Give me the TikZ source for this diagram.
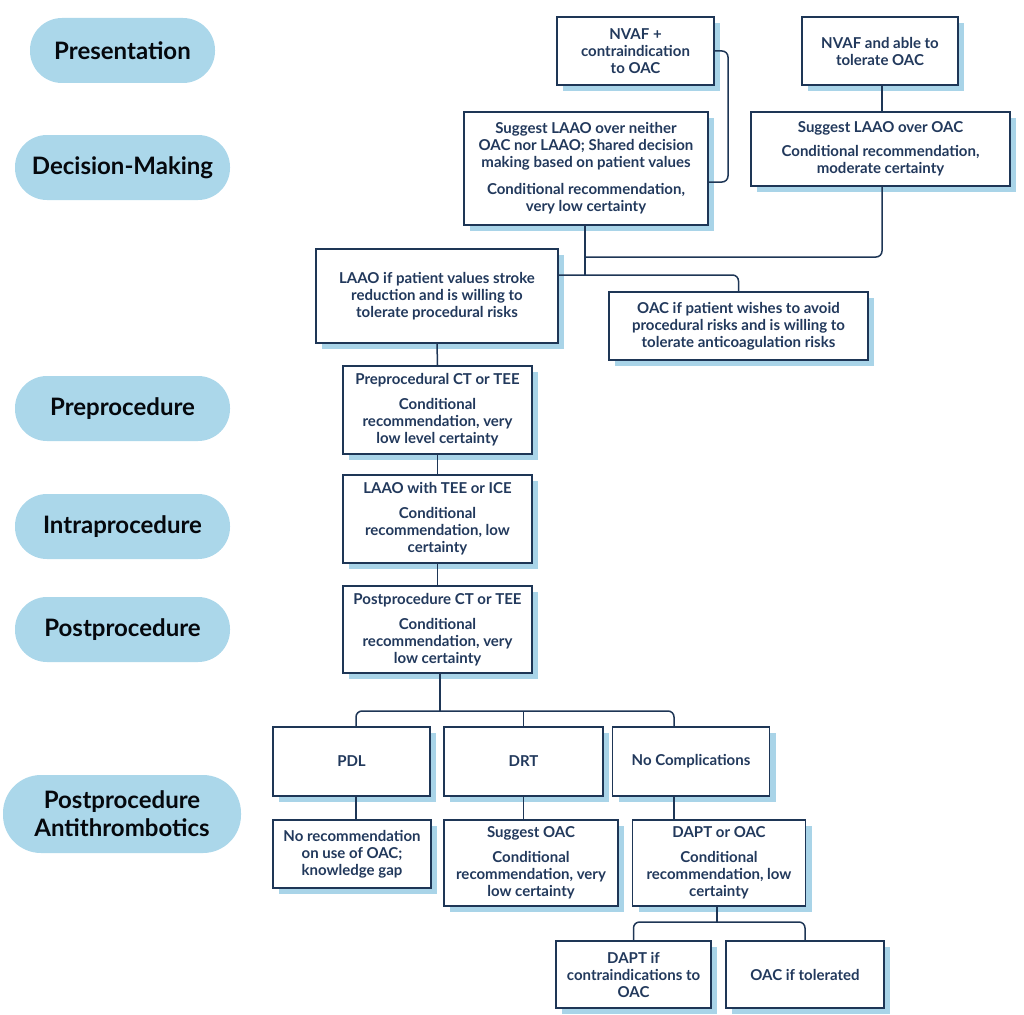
\documentclass[tikz,border=0pt]{standalone}
\usepackage{fontspec}
\setmainfont{Lato}
\usetikzlibrary{shadows}
\definecolor{navy}{HTML}{1E3656}
\definecolor{txt}{HTML}{22395C}
\definecolor{shadowblue}{HTML}{A9D4E8}
\definecolor{pillblue}{HTML}{ABD7EA}
\begin{document}
\begin{tikzpicture}[x=1pt,y=-1pt,
  box/.style={draw=navy, line width=1.5pt, fill=white, align=center, inner sep=0pt,
    text=txt, font=\fontsize{15}{17}\selectfont\bfseries,
    general shadow={fill=shadowblue, draw=none, shadow xshift=6pt, shadow yshift=-6pt}},
  pill/.style={fill=pillblue, rounded corners=32pt, align=center, inner sep=0pt,
    text=black!85!navy, font=\fontsize{24}{28}\selectfont\bfseries},
  conn/.style={draw=navy, line width=1.5pt, rounded corners=6pt}]
\useasboundingbox (0,0) rectangle (1024,1014);
% stage pills
\node[pill, minimum width=185, minimum height=65] (p1) at (122.5,50.5) {Presentation};
\node[pill, minimum width=215, minimum height=65] (p2) at (122.5,167.5) {Decision-Making};
\node[pill, minimum width=215, minimum height=65] (p3) at (122.5,408.5) {Preprocedure};
\node[pill, minimum width=215, minimum height=65] (p4) at (122.5,526.5) {Intraprocedure};
\node[pill, minimum width=215, minimum height=65] (p5) at (122.5,629.5) {Postprocedure};
\node[pill, minimum width=238, minimum height=78, rounded corners=38pt] (p6) at (122,814) {Postprocedure\\Antithrombotics};
% boxes
\node[box, minimum width=157, minimum height=68] (n1) at (635.5,51) {NVAF +\\contraindication\\to OAC};
\node[box, minimum width=156, minimum height=68] (n2) at (880,51) {NVAF and able to\\tolerate OAC};
\node[box, minimum width=244, minimum height=113] (n3) at (586,168.5) {Suggest LAAO over neither\\OAC nor LAAO; Shared decision\\making based on patient values\\[10pt]Conditional recommendation,\\very low certainty};
\node[box, minimum width=259, minimum height=74] (n4) at (880.5,149) {Suggest LAAO over OAC\\[7pt]Conditional recommendation,\\moderate certainty};
\node[box, minimum width=242, minimum height=94] (n5) at (437,296) {LAAO if patient values stroke\\reduction and is willing to\\tolerate procedural risks};
\node[box, minimum width=259, minimum height=68] (n6) at (738.5,326) {OAC if patient wishes to avoid\\procedural risks and is willing to\\tolerate anticoagulation risks};
\node[box, minimum width=189, minimum height=88] (n7) at (437.5,410) {Preprocedural CT or TEE\\[8pt]Conditional\\recommendation, very\\low level certainty};
\node[box, minimum width=189, minimum height=88] (n8) at (437.5,519) {LAAO with TEE or ICE\\[8pt]Conditional\\recommendation, low\\certainty};
\node[box, minimum width=189, minimum height=87] (n9) at (437.5,629.5) {Postprocedure CT or TEE\\[8pt]Conditional\\recommendation, very\\low certainty};
\node[box, minimum width=157, minimum height=69] (n10) at (351.5,761.5) {PDL};
\node[box, minimum width=159, minimum height=69] (n11) at (523.5,761.5) {DRT};
\node[box, minimum width=157, minimum height=69] (n12) at (691,761.5) {No Complications};
\node[box, minimum width=158, minimum height=68] (n13) at (352,854) {No recommendation\\on use of OAC;\\knowledge gap};
\node[box, minimum width=174, minimum height=86] (n14) at (531,863) {Suggest OAC\\[8pt]Conditional\\recommendation, very\\low certainty};
\node[box, minimum width=173, minimum height=86] (n15) at (719,863) {DAPT or OAC\\[8pt]Conditional\\recommendation, low\\certainty};
\node[box, minimum width=155, minimum height=67] (n16) at (633.5,974.5) {DAPT if\\contraindications to\\OAC};
\node[box, minimum width=158, minimum height=67] (n17) at (805,974.5) {OAC if tolerated};
% junction coordinates
\coordinate (c1) at (728,182);
\coordinate (j1) at (585,257);
\coordinate (j2) at (585,275);
\coordinate (j3) at (440,711);
\coordinate (j4) at (717,922);
\coordinate (x10) at (356,0);
\coordinate (x12) at (674,0);
\coordinate (x2) at (882,0);
% connectors
\path[conn] (n1.east) -| (c1) -- (n3.east |- c1);
\path[conn] (n2.south -| x2) -- (n4.north -| x2);
\path[conn] (n4.south -| x2) |- (j1);
\path[conn] (n3.south -| j2) -- (j2);
\path[conn] (n5.east |- j2) -| (n6.north);
\path[conn] (n5.south) -- (n7.north);
\path[conn] (n7.south) -- (n8.north);
\path[conn] (n8.south) -- (n9.north);
\path[conn] (n9.south -| j3) -- (j3);
\path[conn] (n10.north -| x10) |- (j3) -| (n12.north -| x12);
\path[conn] (n11.north) -- (n11.north |- j3);
\path[conn] (n10.south -| x10) -- (n13.north -| x10);
\path[conn] (n11.south) -- (n14.north -| n11.south);
\path[conn] (n12.south -| x12) -- (n15.north -| x12);
\path[conn] (n15.south -| j4) -- (j4);
\path[conn] (n16.north) |- (j4) -| (n17.north);
\end{tikzpicture}
\end{document}
